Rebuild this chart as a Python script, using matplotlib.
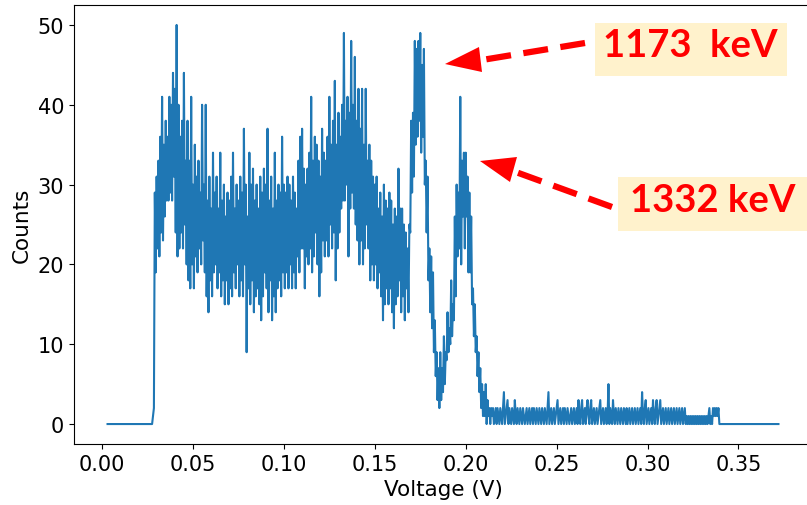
import matplotlib
matplotlib.use("Agg")
import matplotlib.pyplot as plt
import numpy as np
from matplotlib.patches import Rectangle, Polygon
from matplotlib.lines import Line2D
from matplotlib.transforms import Affine2D

# counts in 0.5 mV voltage bins, first bin at 3 mV
first_bin = 0.003   # V
bin_width = 0.0005  # V
counts = [
    0, 0, 0, 0, 0, 0, 0, 0, 0, 0, 0, 0, 0, 0,                          # 0.003 - 0.0095
    0, 0, 0, 0, 0, 0, 0, 0, 0, 0, 0, 0, 0, 0, 0, 0, 0, 0, 0, 0,        # 0.01x
    0, 0, 0, 0, 0, 0, 0, 0, 0, 0, 0, 0, 0, 0, 0, 0, 1, 2, 29, 19,      # 0.02x
    31, 22, 33, 21, 36, 24, 41, 23, 35, 26, 38, 28, 36, 28, 41, 29, 40, 28, 44, 31,  # 0.03x
    42, 24, 50, 21, 40, 22, 36, 24, 38, 22, 44, 25, 33, 20, 38, 18, 33, 17, 41, 20,  # 0.04x
    30, 17, 35, 21, 31, 19, 33, 22, 29, 20, 40, 23, 30, 19, 40, 16, 28, 14, 31, 18,  # 0.05x
    27, 16, 34, 19, 29, 20, 31, 17, 27, 19, 34, 16, 28, 18, 30, 15, 26, 18, 29, 15,  # 0.06x
    28, 17, 31, 16, 34, 19, 27, 17, 30, 20, 28, 16, 31, 18, 29, 16, 37, 20, 30, 9,   # 0.07x
    26, 17, 34, 15, 30, 18, 32, 14, 28, 16, 30, 17, 27, 15, 31, 13, 29, 16, 32, 19,  # 0.08x
    30, 17, 37, 14, 28, 18, 31, 13, 27, 16, 34, 14, 28, 17, 30, 18, 29, 16, 36, 19,  # 0.09x
    30, 17, 29, 19, 31, 17, 30, 20, 28, 17, 31, 19, 29, 17, 27, 21, 33, 19, 36, 22,  # 0.10x
    37, 22, 32, 17, 30, 21, 32, 20, 34, 22, 41, 19, 33, 21, 36, 24, 35, 20, 33, 16,  # 0.11x
    31, 19, 37, 23, 34, 21, 33, 23, 36, 21, 41, 25, 35, 22, 38, 24, 43, 18, 35, 22,  # 0.12x
    39, 24, 36, 27, 40, 28, 49, 28, 38, 30, 41, 21, 39, 27, 48, 29, 40, 27, 46, 25,  # 0.13x
    38, 23, 42, 20, 37, 23, 42, 20, 35, 22, 42, 25, 33, 22, 35, 18, 33, 20, 31, 18,  # 0.14x
    30, 20, 31, 17, 27, 19, 29, 16, 26, 13, 30, 15, 28, 17, 27, 15, 29, 17, 28, 14,  # 0.15x
    25, 12, 27, 15, 26, 16, 32, 18, 27, 14, 27, 16, 25, 13, 24, 17, 22, 14, 25, 24,  # 0.16x
    38, 29, 39, 31, 48, 35, 47, 36, 48, 38, 49, 34, 45, 36, 47, 30, 33, 24, 31, 18,  # 0.17x
    22, 14, 21, 12, 19, 9, 13, 6, 9, 3, 7, 2, 9, 3, 7, 4, 11, 5, 9, 8,               # 0.18x
    14, 9, 12, 10, 18, 11, 15, 13, 26, 16, 30, 21, 29, 22, 41, 20, 33, 26, 34, 22,   # 0.19x
    34, 26, 31, 19, 29, 19, 26, 15, 17, 11, 15, 9, 11, 6, 9, 4, 7, 2, 5, 1,          # 0.20x
    4, 1, 5, 0, 3, 1, 2, 0, 2, 1, 2, 0, 1, 2, 0, 2, 1, 0, 2, 1,                      # 0.21x
    0, 2, 4, 0, 1, 2, 3, 0, 2, 1, 0, 2, 1, 0, 3, 1, 0, 2, 1, 0,                      # 0.22x
    2, 1, 0, 2, 1, 0, 1, 2, 0, 1, 2, 0, 1, 2, 0, 2, 1, 0, 2, 1,                      # 0.23x
    0, 2, 1, 0, 2, 1, 0, 2, 1, 0, 2, 4, 0, 1, 2, 0, 1, 2, 0, 1,                      # 0.24x
    2, 3, 0, 1, 2, 0, 1, 2, 0, 2, 1, 0, 2, 1, 0, 1, 2, 0, 1, 2,                      # 0.25x
    0, 1, 2, 0, 3, 1, 0, 2, 3, 0, 1, 2, 0, 2, 3, 1, 0, 2, 3, 0,                      # 0.26x
    1, 2, 0, 1, 2, 0, 1, 2, 3, 0, 1, 2, 0, 1, 2, 0, 1, 5, 0, 2,                      # 0.27x
    1, 0, 3, 1, 0, 2, 1, 0, 2, 1, 0, 2, 1, 0, 2, 1, 0, 2, 0, 1,                      # 0.28x
    2, 0, 1, 2, 0, 1, 2, 0, 1, 2, 0, 1, 2, 0, 4, 1, 0, 2, 3, 0,                      # 0.29x
    1, 2, 0, 1, 2, 0, 3, 1, 0, 2, 3, 0, 1, 2, 3, 0, 1, 2, 0, 1,                      # 0.30x
    2, 0, 1, 2, 0, 1, 2, 0, 1, 2, 0, 1, 2, 0, 1, 2, 0, 1, 2, 0,                      # 0.31x
    1, 2, 0, 1, 0, 1, 0, 1, 0, 1, 0, 1, 0, 1, 0, 1, 0, 1, 0, 1,                      # 0.32x
    0, 1, 0, 1, 0, 1, 0, 1, 2, 0, 1, 0, 2, 1, 2, 1, 2, 1, 2, 0,                      # 0.33x
    0, 0, 0, 0, 0, 0, 0, 0, 0, 0, 0, 0, 0, 0, 0, 0, 0, 0, 0, 0,                      # 0.34x
    0, 0, 0, 0, 0, 0, 0, 0, 0, 0, 0, 0, 0, 0, 0, 0, 0, 0, 0, 0,                      # 0.35x
    0, 0, 0, 0, 0, 0, 0, 0, 0, 0, 0, 0, 0, 0, 0, 0, 0, 0, 0, 0,                      # 0.36x
    0, 0, 0, 0, 0,                                                                  # 0.370 - 0.372
]
voltage = first_bin + np.arange(len(counts)) * bin_width

peak_labels = ["1173  keV", "1332 keV"]

fig = plt.figure(figsize=(8.07, 5.06), dpi=100)
# axes run past the right edge of the saved picture, like the original crop
ax = fig.add_axes([74 / 807, 61 / 506, 738 / 807, 439 / 506])
ax.plot(voltage, counts, color="#1f77b4", lw=1.5)

ax.set_xlabel("Voltage (V)", fontsize=15.5)
ax.set_ylabel("Counts", fontsize=15.5)
ax.tick_params(labelsize=15)

# pixel coordinates (origin top-left) for the annotation overlay
px = Affine2D().scale(1 / 807, -1 / 506).translate(0, 1) + fig.transFigure

box_color = "#fff2cc"
fig.add_artist(Rectangle((595, 24), 192, 53, transform=px, facecolor=box_color,
                         edgecolor="none"))
fig.add_artist(Rectangle((618, 178), 200, 54, transform=px, facecolor=box_color,
                         edgecolor="none"))
fig.text(690, 57, peak_labels[0], transform=px, ha="center", va="baseline",
         color="red", fontsize=27.5, fontweight="bold", family=["Lato", "DejaVu Sans"])
fig.text(713, 212, peak_labels[1], transform=px, ha="center", va="baseline",
         color="red", fontsize=27.5, fontweight="bold", family=["Lato", "DejaVu Sans"])

# dashed arrows
fig.add_artist(Line2D([585, 482], [44, 61], transform=px, color="red", lw=4.5,
                      linestyle=(0, (4, 2))))
fig.add_artist(Polygon([(445, 65), (479, 48), (482, 73)], transform=px,
                       facecolor="red", edgecolor="none"))
fig.add_artist(Line2D([612, 513], [208, 172], transform=px, color="red", lw=4.5,
                      linestyle=(0, (4, 2))))
fig.add_artist(Polygon([(480, 162), (517, 158), (510, 183)], transform=px,
                       facecolor="red", edgecolor="none"))

fig.savefig("out.png", dpi=100)
